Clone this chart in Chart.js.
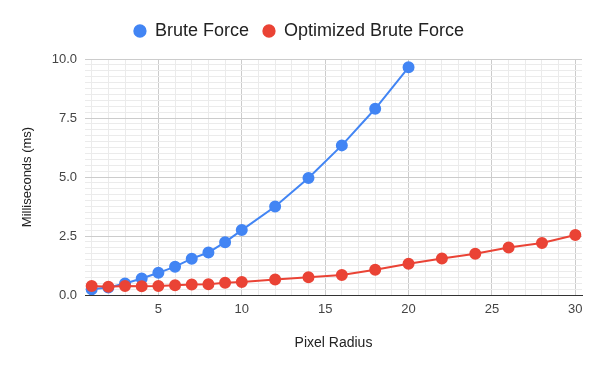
<!DOCTYPE html>
<html>
<head>
<meta charset="utf-8">
<script src="https://cdn.jsdelivr.net/npm/chart.js@4/dist/chart.umd.min.js"></script>
<style>
  html, body { margin: 0; padding: 0; background: #fff; }
  #wrap { width: 600px; height: 371px; }
</style>
</head>
<body>
<div id="wrap"><canvas id="chart"></canvas></div>
<script>
// data
const bruteRadius = [1, 2, 3, 4, 5, 6, 7, 8, 9, 10, 12, 14, 16, 18, 20];
const bruteMs = [0.24, 0.32, 0.49, 0.70, 0.94, 1.20, 1.54, 1.80, 2.24, 2.75, 3.75, 4.96, 6.34, 7.89, 9.65];
const optRadius = [1, 2, 3, 4, 5, 6, 7, 8, 9, 10, 12, 14, 16, 18, 20, 22, 24, 26, 28, 30];
const optMs = [0.38, 0.35, 0.38, 0.37, 0.38, 0.41, 0.44, 0.46, 0.52, 0.55, 0.66, 0.75, 0.85, 1.07, 1.32, 1.55, 1.75, 2.01, 2.20, 2.54];
const xTickLabels = [5, 10, 15, 20, 25, 30];
const yTickLabels = [0, 2.5, 5, 7.5, 10];

const FONT = "'Liberation Sans', Arial, sans-serif";

function toPoints(xs, ys) {
  return xs.map((x, i) => ({ x: x, y: ys[i] }));
}

function isIn(list, v) {
  return list.some(t => Math.abs(t - v) < 1e-6);
}

// one gridline per whole unit, no extra ticks at the padded edges
function wholeTicks(axis) {
  const ticks = [];
  for (let v = Math.ceil(axis.min); v <= Math.floor(axis.max); v++) {
    ticks.push({ value: v });
  }
  axis.ticks = ticks;
}

// leave a little room under the legend
const legendGap = {
  id: "legendGap",
  beforeInit(chart) {
    const fit = chart.legend.fit;
    chart.legend.fit = function () {
      fit.call(this);
      this.height += 9;
    };
  }
};

const ctx = document.getElementById("chart").getContext("2d");

new Chart(ctx, {
  type: "line",
  data: {
    datasets: [
      {
        label: "Brute Force",
        data: toPoints(bruteRadius, bruteMs),
        borderColor: "#4285F4",
        backgroundColor: "#4285F4",
        borderWidth: 2,
        pointRadius: 5,
        pointHoverRadius: 5,
        order: 1
      },
      {
        label: "Optimized Brute Force",
        data: toPoints(optRadius, optMs),
        borderColor: "#EA4335",
        backgroundColor: "#EA4335",
        borderWidth: 2,
        pointRadius: 5,
        pointHoverRadius: 5,
        order: 0
      }
    ]
  },
  plugins: [legendGap],
  options: {
    responsive: true,
    maintainAspectRatio: false,
    animation: false,
    layout: { padding: { left: 16, right: 18, top: 8, bottom: 15 } },
    plugins: {
      tooltip: { enabled: false },
      legend: {
        position: "top",
        labels: {
          usePointStyle: true,
          pointStyle: "circle",
          boxWidth: 12,
          boxHeight: 8,
          padding: 14,
          color: "#222",
          font: { family: FONT, size: 18 },
          sort: (a, b) => a.datasetIndex - b.datasetIndex
        }
      }
    },
    scales: {
      x: {
        type: "linear",
        min: 0.6,
        max: 30.4,
        afterBuildTicks: wholeTicks,
        afterFit: axis => { axis.height = 61; },
        border: { display: true, color: "#333", width: 1 },
        grid: {
          drawTicks: false,
          color: c => isIn(xTickLabels, c.tick.value) ? "#cccccc" : "#ebebeb"
        },
        ticks: {
          autoSkip: false,
          maxRotation: 0,
          padding: 7,
          color: "#444",
          font: { family: FONT, size: 13 },
          callback: v => isIn(xTickLabels, v) ? String(v) : ""
        },
        title: {
          display: true,
          text: "Pixel Radius",
          color: "#222",
          font: { family: FONT, size: 14 }
        }
      },
      y: {
        min: 0,
        max: 10,
        afterFit: axis => { axis.width = 69; },
        border: { display: false },
        grid: {
          drawTicks: false,
          color: c => isIn(yTickLabels, c.tick.value) ? "#cccccc" : "#ebebeb"
        },
        ticks: {
          stepSize: 0.25,
          autoSkip: false,
          padding: 8,
          color: "#444",
          font: { family: FONT, size: 13 },
          callback: v => isIn(yTickLabels, v) ? v.toFixed(1) : ""
        },
        title: {
          display: true,
          text: "Milliseconds (ms)",
          color: "#222",
          font: { family: FONT, size: 13 }
        }
      }
    }
  }
});
</script>
</body>
</html>
